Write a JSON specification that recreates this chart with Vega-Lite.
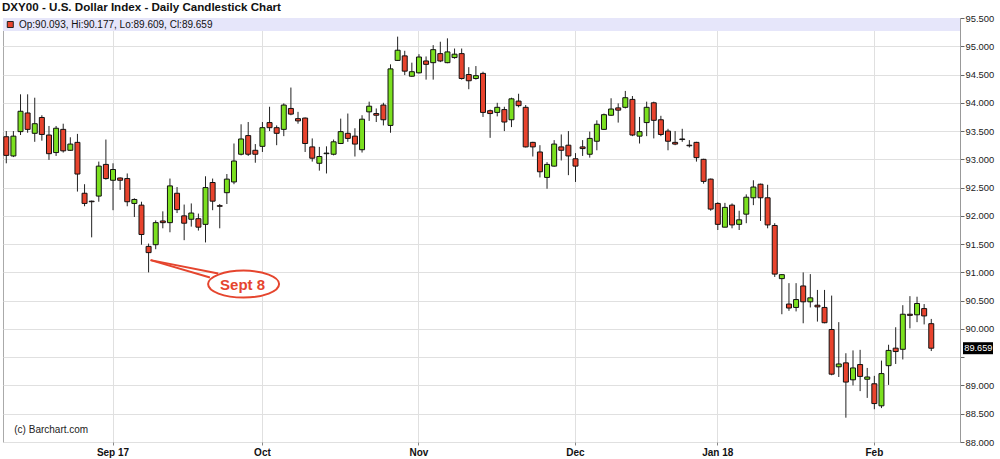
{
"$schema": "https://vega.github.io/schema/vega-lite/v6.json",
"width": 957,
"height": 424,
"autosize": "none",
"padding": {"left": 3, "top": 18, "right": 40, "bottom": 17},
"background": "white",
"config": {"view": {"stroke": "#aaa"}, "font": "Liberation Sans"},
"title": {"text": "DXY00 - U.S. Dollar Index - Daily Candlestick Chart", "anchor": "start", "frame": "group", "fontSize": 11.6, "fontWeight": "bold", "font": "Liberation Sans", "color": "#111", "offset": -1, "dx": -1},
"data": {"values": [
{"date":"2017-08-11","open":93.40,"high":93.50,"low":92.93,"close":93.07},
{"date":"2017-08-14","open":93.06,"high":93.50,"low":93.04,"close":93.41},
{"date":"2017-08-15","open":93.49,"high":94.15,"low":93.43,"close":93.85},
{"date":"2017-08-16","open":93.82,"high":94.15,"low":93.47,"close":93.53},
{"date":"2017-08-17","open":93.46,"high":94.09,"low":93.31,"close":93.63},
{"date":"2017-08-18","open":93.74,"high":93.78,"low":93.33,"close":93.44},
{"date":"2017-08-21","open":93.43,"high":93.59,"low":92.99,"close":93.10},
{"date":"2017-08-22","open":93.12,"high":93.59,"low":93.06,"close":93.55},
{"date":"2017-08-23","open":93.53,"high":93.63,"low":93.12,"close":93.15},
{"date":"2017-08-24","open":93.16,"high":93.39,"low":93.15,"close":93.27},
{"date":"2017-08-25","open":93.30,"high":93.45,"low":92.43,"close":92.74},
{"date":"2017-08-28","open":92.40,"high":92.56,"low":92.17,"close":92.22},
{"date":"2017-08-29","open":92.26,"high":92.27,"low":91.62,"close":92.25},
{"date":"2017-08-30","open":92.35,"high":92.96,"low":92.25,"close":92.88},
{"date":"2017-08-31","open":92.91,"high":93.35,"low":92.64,"close":92.66},
{"date":"2017-09-01","open":92.63,"high":92.93,"low":92.10,"close":92.82},
{"date":"2017-09-04","open":92.67,"high":92.68,"low":92.46,"close":92.63},
{"date":"2017-09-05","open":92.66,"high":92.75,"low":92.17,"close":92.25},
{"date":"2017-09-06","open":92.22,"high":92.31,"low":91.98,"close":92.29},
{"date":"2017-09-07","open":92.19,"high":92.25,"low":91.49,"close":91.67},
{"date":"2017-09-08","open":91.46,"high":91.51,"low":91.00,"close":91.35},
{"date":"2017-09-11","open":91.49,"high":91.92,"low":91.41,"close":91.88},
{"date":"2017-09-12","open":91.91,"high":92.08,"low":91.78,"close":91.88},
{"date":"2017-09-13","open":91.88,"high":92.66,"low":91.71,"close":92.53},
{"date":"2017-09-14","open":92.40,"high":92.51,"low":92.05,"close":92.11},
{"date":"2017-09-15","open":92.00,"high":92.20,"low":91.57,"close":91.87},
{"date":"2017-09-18","open":91.94,"high":92.22,"low":91.81,"close":92.05},
{"date":"2017-09-19","open":91.95,"high":92.04,"low":91.74,"close":91.80},
{"date":"2017-09-20","open":91.85,"high":92.70,"low":91.53,"close":92.50},
{"date":"2017-09-21","open":92.59,"high":92.66,"low":92.10,"close":92.26},
{"date":"2017-09-22","open":92.18,"high":92.21,"low":91.78,"close":92.17},
{"date":"2017-09-25","open":92.41,"high":92.74,"low":92.21,"close":92.65},
{"date":"2017-09-26","open":92.60,"high":93.28,"low":92.56,"close":92.97},
{"date":"2017-09-27","open":93.09,"high":93.62,"low":93.07,"close":93.36},
{"date":"2017-09-28","open":93.42,"high":93.66,"low":93.06,"close":93.09},
{"date":"2017-09-29","open":93.16,"high":93.27,"low":92.94,"close":93.09},
{"date":"2017-10-02","open":93.23,"high":93.66,"low":93.13,"close":93.56},
{"date":"2017-10-03","open":93.65,"high":93.93,"low":93.50,"close":93.56},
{"date":"2017-10-04","open":93.56,"high":93.60,"low":93.25,"close":93.46},
{"date":"2017-10-05","open":93.53,"high":93.99,"low":93.41,"close":93.96},
{"date":"2017-10-06","open":93.90,"high":94.27,"low":93.78,"close":93.80},
{"date":"2017-10-09","open":93.72,"high":93.84,"low":93.63,"close":93.68},
{"date":"2017-10-10","open":93.73,"high":93.74,"low":93.13,"close":93.28},
{"date":"2017-10-11","open":93.22,"high":93.37,"low":92.96,"close":93.02},
{"date":"2017-10-12","open":92.93,"high":93.22,"low":92.80,"close":93.05},
{"date":"2017-10-13","open":93.10,"high":93.23,"low":92.75,"close":93.11},
{"date":"2017-10-16","open":93.09,"high":93.35,"low":93.07,"close":93.31},
{"date":"2017-10-17","open":93.28,"high":93.72,"low":93.27,"close":93.49},
{"date":"2017-10-18","open":93.46,"high":93.81,"low":93.31,"close":93.37},
{"date":"2017-10-19","open":93.41,"high":93.55,"low":93.05,"close":93.27},
{"date":"2017-10-20","open":93.17,"high":93.78,"low":93.12,"close":93.71},
{"date":"2017-10-23","open":93.84,"high":94.02,"low":93.68,"close":93.94},
{"date":"2017-10-24","open":93.81,"high":93.90,"low":93.66,"close":93.78},
{"date":"2017-10-25","open":93.96,"high":94.00,"low":93.60,"close":93.70},
{"date":"2017-10-26","open":93.60,"high":94.68,"low":93.47,"close":94.60},
{"date":"2017-10-27","open":94.75,"high":95.17,"low":94.74,"close":94.93},
{"date":"2017-10-30","open":94.83,"high":94.92,"low":94.49,"close":94.56},
{"date":"2017-10-31","open":94.47,"high":94.71,"low":94.46,"close":94.55},
{"date":"2017-11-01","open":94.53,"high":94.86,"low":94.52,"close":94.81},
{"date":"2017-11-02","open":94.74,"high":94.82,"low":94.41,"close":94.68},
{"date":"2017-11-03","open":94.71,"high":95.02,"low":94.41,"close":94.94},
{"date":"2017-11-06","open":94.87,"high":95.08,"low":94.72,"close":94.74},
{"date":"2017-11-07","open":94.71,"high":95.14,"low":94.70,"close":94.90},
{"date":"2017-11-08","open":94.80,"high":94.96,"low":94.78,"close":94.86},
{"date":"2017-11-09","open":94.87,"high":94.96,"low":94.41,"close":94.43},
{"date":"2017-11-10","open":94.50,"high":94.63,"low":94.24,"close":94.39},
{"date":"2017-11-13","open":94.43,"high":94.65,"low":94.41,"close":94.48},
{"date":"2017-11-14","open":94.52,"high":94.55,"low":93.75,"close":93.83},
{"date":"2017-11-15","open":93.86,"high":93.88,"low":93.38,"close":93.81},
{"date":"2017-11-16","open":93.83,"high":94.00,"low":93.76,"close":93.92},
{"date":"2017-11-17","open":93.88,"high":93.93,"low":93.50,"close":93.66},
{"date":"2017-11-20","open":93.70,"high":94.09,"low":93.57,"close":94.07},
{"date":"2017-11-21","open":94.03,"high":94.16,"low":93.92,"close":93.95},
{"date":"2017-11-22","open":93.92,"high":93.96,"low":93.21,"close":93.22},
{"date":"2017-11-23","open":93.30,"high":93.31,"low":93.05,"close":93.22},
{"date":"2017-11-24","open":93.13,"high":93.25,"low":92.68,"close":92.78},
{"date":"2017-11-27","open":92.68,"high":92.95,"low":92.48,"close":92.91},
{"date":"2017-11-28","open":92.88,"high":93.34,"low":92.87,"close":93.27},
{"date":"2017-11-29","open":93.22,"high":93.44,"low":92.98,"close":93.16},
{"date":"2017-11-30","open":93.25,"high":93.50,"low":92.72,"close":93.06},
{"date":"2017-12-01","open":93.01,"high":93.11,"low":92.60,"close":92.88},
{"date":"2017-12-04","open":93.22,"high":93.34,"low":93.06,"close":93.19},
{"date":"2017-12-05","open":93.09,"high":93.49,"low":93.03,"close":93.37},
{"date":"2017-12-06","open":93.32,"high":93.69,"low":93.16,"close":93.62},
{"date":"2017-12-07","open":93.53,"high":93.81,"low":93.52,"close":93.79},
{"date":"2017-12-08","open":93.78,"high":94.08,"low":93.77,"close":93.89},
{"date":"2017-12-11","open":93.91,"high":93.99,"low":93.65,"close":93.87},
{"date":"2017-12-12","open":93.92,"high":94.21,"low":93.90,"close":94.09},
{"date":"2017-12-13","open":94.06,"high":94.12,"low":93.41,"close":93.43},
{"date":"2017-12-14","open":93.41,"high":93.75,"low":93.28,"close":93.49},
{"date":"2017-12-15","open":93.65,"high":94.02,"low":93.41,"close":93.92},
{"date":"2017-12-18","open":94.00,"high":94.02,"low":93.37,"close":93.69},
{"date":"2017-12-19","open":93.70,"high":93.77,"low":93.41,"close":93.44},
{"date":"2017-12-20","open":93.50,"high":93.54,"low":93.16,"close":93.32},
{"date":"2017-12-21","open":93.30,"high":93.50,"low":93.25,"close":93.27},
{"date":"2017-12-22","open":93.36,"high":93.54,"low":93.31,"close":93.35},
{"date":"2017-12-26","open":93.25,"high":93.34,"low":93.21,"close":93.24},
{"date":"2017-12-27","open":93.30,"high":93.31,"low":92.96,"close":93.03},
{"date":"2017-12-28","open":93.00,"high":93.01,"low":92.57,"close":92.61},
{"date":"2017-12-29","open":92.65,"high":92.66,"low":92.09,"close":92.12},
{"date":"2018-01-02","open":92.22,"high":92.24,"low":91.75,"close":91.85},
{"date":"2018-01-03","open":91.80,"high":92.23,"low":91.80,"close":92.15},
{"date":"2018-01-04","open":92.19,"high":92.22,"low":91.78,"close":91.84},
{"date":"2018-01-05","open":91.85,"high":92.09,"low":91.75,"close":91.93},
{"date":"2018-01-08","open":92.03,"high":92.38,"low":91.87,"close":92.33},
{"date":"2018-01-09","open":92.32,"high":92.63,"low":92.19,"close":92.51},
{"date":"2018-01-10","open":92.56,"high":92.57,"low":91.91,"close":92.32},
{"date":"2018-01-11","open":92.32,"high":92.55,"low":91.78,"close":91.84},
{"date":"2018-01-12","open":91.83,"high":91.87,"low":90.92,"close":90.97},
{"date":"2018-01-15","open":90.89,"high":90.97,"low":90.26,"close":90.96},
{"date":"2018-01-16","open":90.44,"high":90.81,"low":90.32,"close":90.37},
{"date":"2018-01-17","open":90.38,"high":90.81,"low":90.31,"close":90.52},
{"date":"2018-01-18","open":90.76,"high":91.00,"low":90.10,"close":90.48},
{"date":"2018-01-19","open":90.48,"high":90.97,"low":90.38,"close":90.55},
{"date":"2018-01-22","open":90.42,"high":90.69,"low":90.13,"close":90.39},
{"date":"2018-01-23","open":90.38,"high":90.69,"low":90.10,"close":90.11},
{"date":"2018-01-24","open":89.99,"high":90.59,"low":89.18,"close":89.20},
{"date":"2018-01-25","open":89.33,"high":90.12,"low":89.15,"close":89.38},
{"date":"2018-01-26","open":89.40,"high":89.57,"low":88.43,"close":89.06},
{"date":"2018-01-29","open":89.10,"high":89.62,"low":89.00,"close":89.31},
{"date":"2018-01-30","open":89.37,"high":89.63,"low":88.90,"close":89.16},
{"date":"2018-01-31","open":89.11,"high":89.31,"low":88.78,"close":89.15},
{"date":"2018-02-01","open":89.03,"high":89.17,"low":88.58,"close":88.68},
{"date":"2018-02-02","open":88.64,"high":89.44,"low":88.60,"close":89.21},
{"date":"2018-02-05","open":89.35,"high":89.72,"low":89.01,"close":89.62},
{"date":"2018-02-06","open":89.66,"high":90.03,"low":89.38,"close":89.60},
{"date":"2018-02-07","open":89.64,"high":90.42,"low":89.46,"close":90.26},
{"date":"2018-02-08","open":90.26,"high":90.58,"low":90.01,"close":90.24},
{"date":"2018-02-09","open":90.25,"high":90.57,"low":90.12,"close":90.45},
{"date":"2018-02-12","open":90.36,"high":90.44,"low":90.08,"close":90.23},
{"date":"2018-02-13","open":90.093,"high":90.177,"low":89.609,"close":89.659}
]},
"layer": [
{"transform": [{"filter": "datum.date == '2018-02-13'"}],
 "mark": {"type": "rect", "fill": "#e6e6fa"},
 "encoding": {"x": {"value": 0}, "x2": {"value": "width"}, "y": {"datum": 95.5, "type": "quantitative"}, "y2": {"datum": 95.27}}},
{"mark": {"type": "rule", "color": "#222", "strokeWidth": 1},
 "encoding": {
  "x": {"field": "date", "type": "ordinal",
   "scale": {"type": "band", "domain": {"unionWith": ["2018-02-14","2018-02-15","2018-02-16"]}, "paddingInner": 0.3, "paddingOuter": 0.4, "align": 0.14},
   "axis": {"values": ["2017-09-01","2017-10-02","2017-11-01","2017-12-01","2018-01-02","2018-02-01"],
    "labelExpr": "datum.value == '2017-09-01' ? 'Sep 17' : datum.value == '2017-10-02' ? 'Oct' : datum.value == '2017-11-01' ? 'Nov' : datum.value == '2017-12-01' ? 'Dec' : datum.value == '2018-01-02' ? 'Jan 18' : 'Feb'",
    "title": null, "labelAngle": 0, "labelFontWeight": "bold", "labelFontSize": 10, "labelColor": "#111", "labelFont": "Liberation Sans",
    "tickSize": 3, "tickColor": "#888", "grid": true, "gridColor": "#e0e0e0", "domain": false, "bandPosition": 0.5, "labelPadding": 2}},
  "y": {"field": "low", "type": "quantitative",
   "scale": {"domain": [88, 95.5], "nice": false, "zero": false},
   "axis": {"orient": "right", "values": [88,88.5,89,89.5,90,90.5,91,91.5,92,92.5,93,93.5,94,94.5,95,95.5], "tickCount": 40,
    "labelExpr": "datum.value == 89.5 ? '' : format(datum.value, '.3f')", "labelOverlap": false,
    "title": null, "grid": true, "gridColor": "#e0e0e0", "tickSize": 4, "tickColor": "#666", "domainColor": "#999",
    "labelFontSize": 9.4, "labelColor": "#222", "labelFont": "Liberation Sans", "labelPadding": 1}},
  "y2": {"field": "high"}}},
{"mark": {"type": "bar", "stroke": "#111", "strokeWidth": 1},
 "encoding": {
  "x": {"field": "date", "type": "ordinal"},
  "y": {"field": "open", "type": "quantitative"},
  "y2": {"field": "close"},
  "fill": {"condition": {"test": "datum.close < datum.open", "value": "#e8432d"}, "value": "#7be01f"}}},
{"transform": [{"filter": "datum.date == '2017-09-08'"}],
 "mark": {"type": "rule", "color": "#e5452e", "strokeWidth": 2, "xOffset": 2, "x2Offset": -2.7},
 "encoding": {"x": {"datum": "2017-09-08", "type": "ordinal"}, "y": {"datum": 91.217, "type": "quantitative"}, "x2": {"datum": "2017-09-21"}, "y2": {"datum": 90.911}}},
{"transform": [{"filter": "datum.date == '2017-09-08'"}],
 "mark": {"type": "rule", "color": "#e5452e", "strokeWidth": 2, "xOffset": 2, "x2Offset": -1.5},
 "encoding": {"x": {"datum": "2017-09-08", "type": "ordinal"}, "y": {"datum": 91.217, "type": "quantitative"}, "x2": {"datum": "2017-09-22"}, "y2": {"datum": 90.982}}},
{"transform": [{"filter": "datum.date == '2017-09-08'"}],
 "mark": {"type": "point", "shape": "M -1 0 C -1 -0.21 -0.552 -0.38 0 -0.38 C 0.552 -0.38 1 -0.21 1 0 C 1 0.21 0.552 0.38 0 0.38 C -0.552 0.38 -1 0.21 -1 0 Z", "size": 5041, "filled": true, "fill": "white", "stroke": "#e5452e", "strokeWidth": 2, "opacity": 1, "xOffset": 2.5},
 "encoding": {"x": {"datum": "2017-09-27", "type": "ordinal"}, "y": {"datum": 90.793, "type": "quantitative"}}},
{"transform": [{"filter": "datum.date == '2017-09-08'"}],
 "mark": {"type": "text", "text": "Sept 8", "font": "Liberation Sans", "fontSize": 15, "fontWeight": "bold", "color": "#e5452e", "align": "center", "baseline": "middle", "dx": 1.5, "dy": 1},
 "encoding": {"x": {"datum": "2017-09-27", "type": "ordinal"}, "y": {"datum": 90.793, "type": "quantitative"}}},
{"transform": [{"filter": "datum.date == '2018-02-13'"}],
 "mark": {"type": "point", "shape": "square", "size": 36, "filled": true, "fill": "#e8432d", "stroke": "#222", "strokeWidth": 1, "opacity": 1, "xOffset": 4},
 "encoding": {"x": {"datum": "2017-08-11", "type": "ordinal"}, "y": {"datum": 95.385, "type": "quantitative"}}},
{"transform": [{"filter": "datum.date == '2018-02-13'"},
  {"calculate": "'Op:' + format(datum.open, '.3f') + ', Hi:' + format(datum.high, '.3f') + ', Lo:' + format(datum.low, '.3f') + ', Cl:' + format(datum.close, '.3f')", "as": "ohlc"}],
 "mark": {"type": "text", "align": "left", "baseline": "middle", "fontSize": 10, "font": "Liberation Sans", "color": "#111", "dx": 12.7},
 "encoding": {"x": {"datum": "2017-08-11", "type": "ordinal"}, "y": {"datum": 95.383, "type": "quantitative"}, "text": {"field": "ohlc"}}},
{"transform": [{"filter": "datum.date == '2018-02-13'"}],
 "mark": {"type": "text", "text": "(c) Barchart.com", "align": "left", "baseline": "middle", "fontSize": 10, "font": "Liberation Sans", "color": "#222", "dx": 8},
 "encoding": {"x": {"datum": "2017-08-11", "type": "ordinal"}, "y": {"datum": 88.21, "type": "quantitative"}}},
{"transform": [{"filter": "datum.date == '2018-02-13'"}],
 "mark": {"type": "rect", "fill": "#000", "xOffset": 3, "x2Offset": 33, "yOffset": -6, "y2Offset": 6},
 "encoding": {"x": {"value": "width"}, "x2": {"value": "width"}, "y": {"field": "close", "type": "quantitative"}, "y2": {"field": "close"}}},
{"transform": [{"filter": "datum.date == '2018-02-13'"}],
 "mark": {"type": "text", "align": "left", "baseline": "middle", "fontSize": 9.2, "font": "Liberation Sans", "color": "#fff", "dx": 4.3},
 "encoding": {"x": {"value": "width"}, "y": {"field": "close", "type": "quantitative"}, "text": {"field": "close", "type": "quantitative", "format": ".3f"}}}
]
}
